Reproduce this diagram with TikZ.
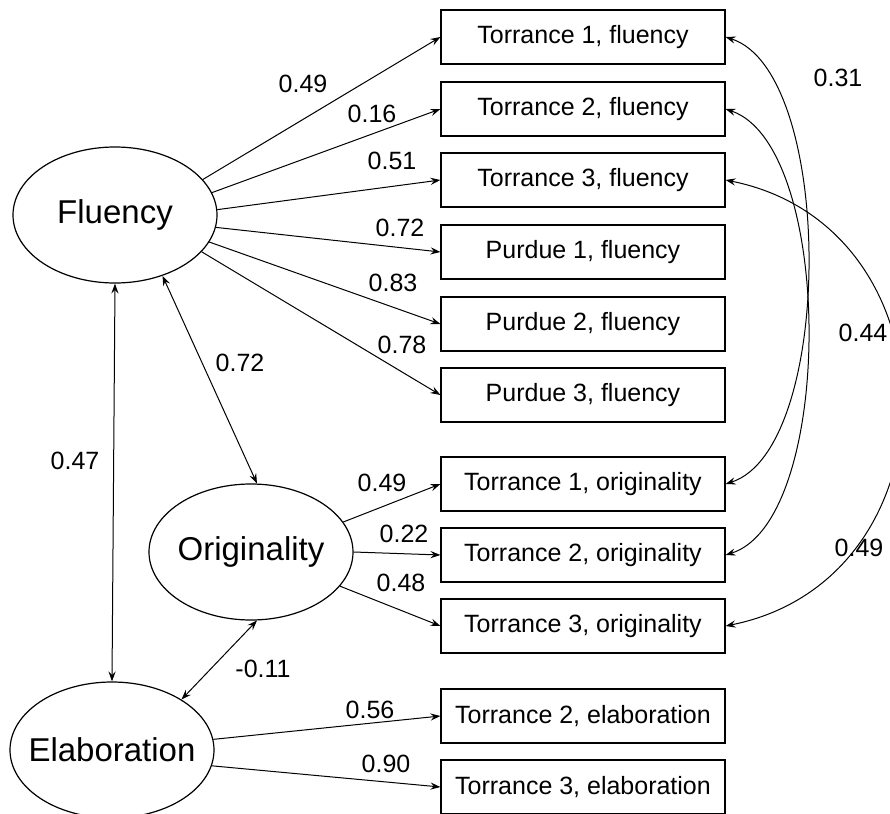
\documentclass[tikz,border=0pt]{standalone}
\usepackage{fontspec}
\setmainfont{Liberation Sans}
\usetikzlibrary{arrows.meta,shapes.geometric}

\begin{document}
\begin{tikzpicture}[x=0.5pt, y=-0.5pt, line width=0.5pt,
  obs/.style={draw, line width=0.6pt, minimum width=142pt, minimum height=27pt, inner sep=0pt, font=\fontsize{12.5}{15}\selectfont},
  lat/.style={draw, shape=ellipse, line width=0.6pt, minimum width=102pt, minimum height=68pt, inner sep=0pt, font=\fontsize{16.5}{20}\selectfont},
  coef/.style={inner sep=0pt, font=\fontsize{12.5}{15}\selectfont},
  >={Stealth[length=5pt, width=3.6pt, inset=1.8pt]}]

\useasboundingbox (0,0) rectangle (890,814);
\clip (0,0) rectangle (890,814);

\node[lat] (fl) at (115,215) {\makebox[0pt]{Fluency}};
\node[lat] (ori) at (251,552) {\makebox[0pt]{Originality}};
\node[lat] (el) at (112,750) {\makebox[0pt]{Elaboration}};

\node[obs] (tf1) at (583,37) {Torrance 1, fluency};
\node[obs] (tf2) at (583,109) {Torrance 2, fluency};
\node[obs] (tf3) at (583,180) {Torrance 3, fluency};
\node[obs] (pf1) at (583,252) {Purdue 1, fluency};
\node[obs] (pf2) at (583,324) {Purdue 2, fluency};
\node[obs] (pf3) at (583,395) {Purdue 3, fluency};

\node[obs] (to1) at (583,484) {Torrance 1, originality};
\node[obs] (to2) at (583,555) {Torrance 2, originality};
\node[obs] (to3) at (583,626) {Torrance 3, originality};

\node[obs] (te2) at (583,716) {Torrance 2, elaboration};
\node[obs] (te3) at (583,787) {Torrance 3, elaboration};

\draw[->] (fl.22) to (tf1.west);
\draw[->] (fl.13) to (tf2.west);
\draw[->] (fl.3) to (tf3.west);
\draw[->] (fl.-7) to (pf1.west);
\draw[->] (fl.-16) to (pf2.west);
\draw[->] (fl.-23) to (pf3.west);

\draw[->] (ori.18) to (to1.west);
\draw[->] (ori.0) to (to2.west);
\draw[->] (ori.-21) to (to3.west);

\draw[->] (el.6) to (te2.west);
\draw[->] (el.-9) to (te3.west);

\draw[<->] (fl.-52) to (ori.85);
\draw[<->] (fl.south) to (el.north);
\draw[<->] (ori.-85) to (el.36);

\draw[<->] (tf1.east) .. controls (835,72) and (835,449) .. (to1.east);
\draw[<->] (tf2.east) .. controls (835,146) and (835,521) .. (to2.east);
\draw[<->] (tf3.east) .. controls (960,227) and (960,579) .. (to3.east);

\node[coef] (k1) at (303,84) {0.49};
\node[coef] (k2) at (372,114) {0.16};
\node[coef] (k3) at (392,161) {0.51};
\node[coef] (k4) at (400,228) {0.72};
\node[coef] (k5) at (393,283) {0.83};
\node[coef] (k6) at (402,345) {0.78};

\node[coef] (k7) at (382,483) {0.49};
\node[coef] (k8) at (404,534) {0.22};
\node[coef] (k9) at (401,583) {0.48};

\node[coef] (k10) at (370,710) {0.56};
\node[coef] (k11) at (386,764) {0.90};

\node[coef] (r1) at (240,363) {0.72};
\node[coef] (r2) at (75,461) {0.47};
\node[coef] (r3) at (263,669) {-0.11};

\node[coef] (r4) at (838,78) {0.31};
\node[coef] (r5) at (863,333) {0.44};
\node[coef] (r6) at (859,548) {0.49};

\end{tikzpicture}
\end{document}
